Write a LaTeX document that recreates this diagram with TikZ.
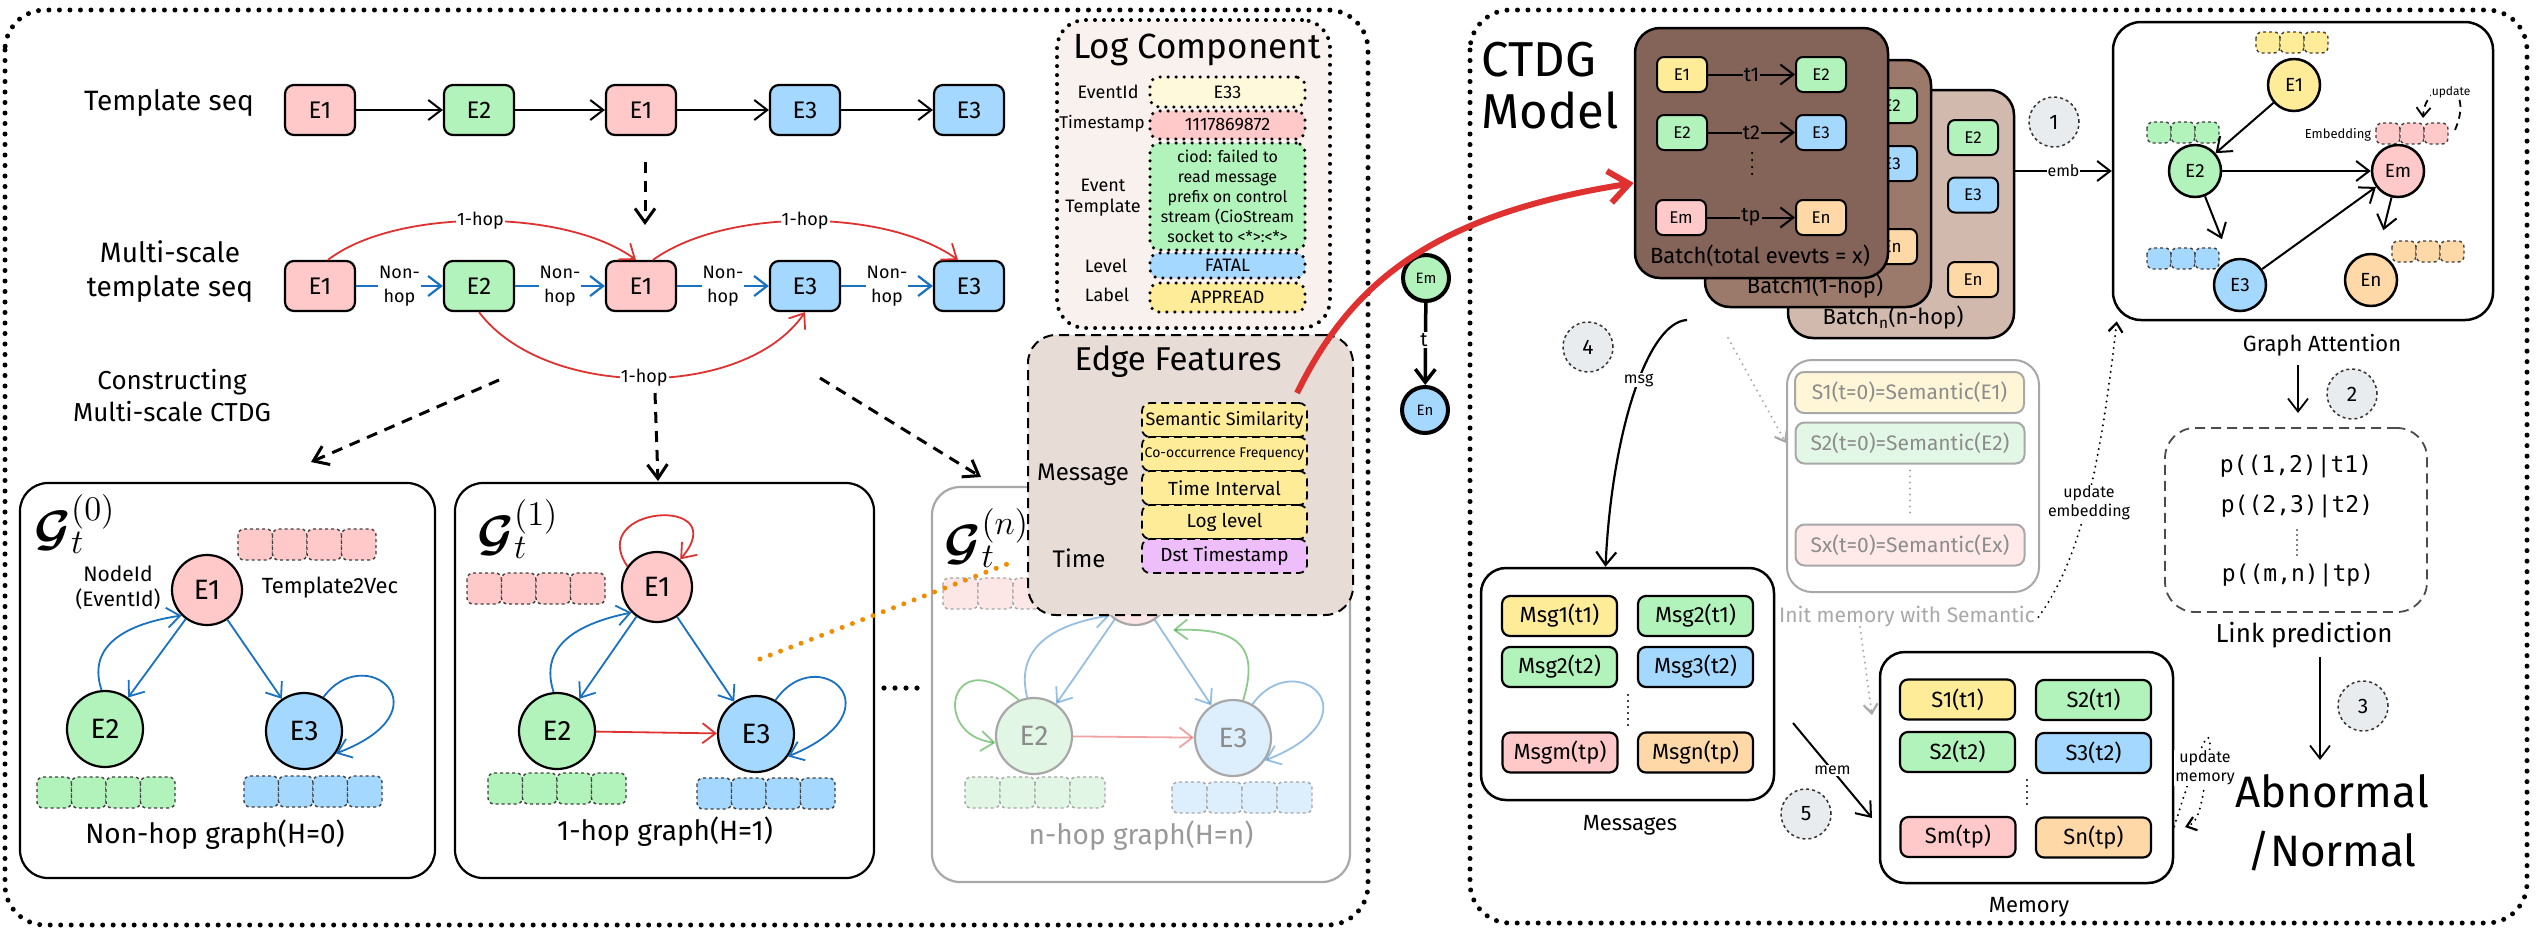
\documentclass[tikz,border=0pt]{standalone}
\usepackage{fontspec}
\setmainfont{Fira Sans}
\newfontfamily\monof{DejaVu Sans Mono}
\usepackage{bm}
\usepackage{graphicx}
\usetikzlibrary{arrows.meta,calc}
\definecolor{cpink}{HTML}{FFC9C9}
\definecolor{cgreen}{HTML}{B2F2BB}
\definecolor{cblue}{HTML}{A5D8FF}
\definecolor{cyellow}{HTML}{FFEC99}
\definecolor{corange}{HTML}{FFD8A8}
\definecolor{cpurple}{HTML}{EEBEFA}
\definecolor{clyellow}{HTML}{FFF9DB}
\definecolor{eblue}{HTML}{1971C2}
\definecolor{ered}{HTML}{E03131}
\definecolor{eorange}{HTML}{F08C00}
\definecolor{bfront}{HTML}{846358}
\definecolor{bmid}{HTML}{9C7A6B}
\definecolor{bback}{HTML}{D2B9AE}
\definecolor{logfill}{HTML}{F8F1EE}
\definecolor{effill}{HTML}{E8DCD7}
\definecolor{numfill}{HTML}{E9ECEF}
\definecolor{fgrey}{HTML}{A8A8A8}
\definecolor{syel}{HTML}{FFF6D8}
\definecolor{sgrn}{HTML}{E2F7E5}
\definecolor{spnk}{HTML}{FFE9E9}
\definecolor{fpink}{HTML}{FDE6E6}
\definecolor{fgreen}{HTML}{E1F6E4}
\definecolor{fblue}{HTML}{DDEEFC}
\newcommand{\fsz}[2]{\fontsize{#1pt}{#2pt}\selectfont}
\newcommand{\embbar}[6]{\foreach \ii in {1,...,#3}{\draw[#6] ({#1+(\ii-1)*#4},#2) rectangle ++(#4,#5);}}
\tikzset{
 arr/.style={-{Straight Barb[length=13pt,width=20pt]}},
 sarr/.style={-{Straight Barb[length=9pt,width=14pt]}},
 larr/.style={-{Straight Barb[length=20pt,width=32pt]}},
 outerdot/.style={line width=5pt, dash pattern=on 0pt off 10.5pt, line cap=round, rounded corners=40pt},
 ebox/.style={draw=black, line width=2.2pt, rounded corners=9pt, minimum width=70pt, minimum height=50pt, inner sep=0pt, font=\fsz{24}{28}},
 blk/.style={draw=black, line width=2pt},
 nh/.style={fill=white, align=center, font=\fsz{18}{24}, inner sep=1pt},
 hop/.style={fill=white, font=\fsz{18}{20}, inner sep=1pt},
 lbl/.style={font=\fsz{28}{34}, align=center},
 darr/.style={line width=3pt, dash pattern=on 11pt off 8pt, -{Straight Barb[length=14pt,width=20pt]}},
 gbox/.style={draw=black, line width=2.2pt, rounded corners=28pt},
 gn/.style={circle, draw=black, line width=2.2pt, minimum size=76pt, inner sep=0pt, font=\fsz{28}{32}},
 fgn/.style={circle, draw=fgrey, line width=2.2pt, minimum size=76pt, inner sep=0pt, font=\fsz{28}{32}, text=black!45},
 emb/.style={draw=black!75, dashed, line width=1.4pt, rounded corners=6pt},
 femb/.style={draw=black!35, dashed, line width=1.4pt, rounded corners=6pt},
 be/.style={draw=eblue, line width=1.8pt, arr},
 re/.style={draw=ered, line width=1.8pt, arr},
 ge/.style={draw=green!55!black, line width=1.8pt, arr},
 fade/.style={opacity=0.45},
 lval/.style={draw=black, line width=3.5pt, dash pattern=on 0pt off 8pt, line cap=round, rounded corners=9pt, minimum width=155pt, inner sep=0pt, font=\fsz{18}{20}, align=center},
 efval/.style={draw=black, line width=1.8pt, dash pattern=on 8pt off 5pt, rounded corners=8pt, minimum width=165pt, minimum height=34pt, inner sep=0pt, font=\fsz{19}{22}},
 smallc/.style={circle, draw=black, line width=4pt, minimum size=46pt, inner sep=0pt, font=\fsz{15}{18}},
 bstyle/.style={draw=black, line width=2.5pt, rounded corners=25pt},
 bbx/.style={draw=black, line width=2pt, rounded corners=7pt, minimum width=50pt, minimum height=35pt, inner sep=0pt, font=\fsz{17}{20}},
 bt/.style={fill=bfront, font=\fsz{20}{22}, inner sep=1pt},
 numc/.style={circle, draw=black!80, dashed, line width=1.5pt, fill=numfill, minimum size=50pt, inner sep=0pt, font=\fsz{21}{24}},
 gac/.style={circle, draw=black, line width=2.5pt, minimum size=52pt, inner sep=0pt, font=\fsz{19}{22}},
 cont/.style={draw=black, line width=2.5pt, rounded corners=25pt},
 mbox/.style={draw=black, line width=2.2pt, rounded corners=8pt, minimum width=115pt, minimum height=40pt, inner sep=0pt, font=\fsz{22}{24}},
 sbox/.style={draw=fgrey, line width=2pt, rounded corners=9pt, minimum width=229pt, minimum height=41pt, inner sep=0pt, text=black!45, font=\fsz{21}{24}},
 gdot/.style={draw=fgrey, line width=2.2pt, dash pattern=on 0pt off 6pt, line cap=round},
 bdot/.style={draw=black, line width=2.2pt, dash pattern=on 0pt off 6pt, line cap=round},
 small/.style={font=\fsz{16}{19}, fill=white, inner sep=1pt, align=center},
}
\begin{document}
\begin{tikzpicture}[x=1pt,y=-1pt]
\useasboundingbox (0,0) rectangle (2537,935);
\fill[white] (0,0) rectangle (2537,935);
% outer boxes
\draw[outerdot] (5,10) rectangle (1368,925);
\draw[outerdot] (1470,10) rectangle (2527,923);

% ---------- template sequence ----------
\node[lbl] (tseq) at (169,103) {Template seq};
\node[ebox, fill=cpink] (t1) at (320,110) {E1};
\node[ebox, fill=cgreen] (t2) at (479,110) {E2};
\node[ebox, fill=cpink] (t3) at (641,110) {E1};
\node[ebox, fill=cblue] (t4) at (805,110) {E3};
\node[ebox, fill=cblue] (t5) at (969,110) {E3};
\draw[blk, arr] (t1) -- (t2);
\draw[blk, arr] (t2) -- (t3);
\draw[blk, arr] (t3) -- (t4);
\draw[blk, arr] (t4) -- (t5);
\coordinate (a0) at (645,162);
\coordinate (a1) at (645,225);
\draw[darr] (a0) -- (a1);

% ---------- multi-scale sequence ----------
\node[lbl] (mseq) at (170,272) {Multi-scale\\template seq};
\node[ebox, fill=cpink] (m1) at (320,286) {E1};
\node[ebox, fill=cgreen] (m2) at (479,286) {E2};
\node[ebox, fill=cpink] (m3) at (641,286) {E1};
\node[ebox, fill=cblue] (m4) at (805,286) {E3};
\node[ebox, fill=cblue] (m5) at (969,286) {E3};
\draw[draw=eblue, line width=2.2pt, arr] (m1) -- node[nh]{Non-\\hop} (m2);
\draw[draw=eblue, line width=2.2pt, arr] (m2) -- node[nh]{Non-\\hop} (m3);
\draw[draw=eblue, line width=2.2pt, arr] (m3) -- node[nh]{Non-\\hop} (m4);
\draw[draw=eblue, line width=2.2pt, arr] (m4) -- node[nh]{Non-\\hop} (m5);
\draw[re] ([xshift=8pt]m1.north) .. controls (395,208) and (565,208) .. ([xshift=-5pt]m3.north) node[pos=0.5, hop]{1-hop};
\draw[re] ([xshift=12pt]m3.north) .. controls (725,208) and (885,208) .. ([xshift=-11pt]m5.north) node[pos=0.5, hop]{1-hop};
\draw[re] (m2.south) .. controls (545,400) and (745,400) .. (m4.south) node[pos=0.5, hop]{1-hop};

\node[font=\fsz{26}{32}, align=center] (cons) at (172,396) {Constructing\\Multi-scale CTDG};
\coordinate (c1s) at (499,380); \coordinate (c1e) at (311,462);
\coordinate (c2s) at (655,393); \coordinate (c2e) at (658,481);
\coordinate (c3s) at (820,378); \coordinate (c3e) at (981,477);
\draw[darr] (c1s) -- (c1e);
\draw[darr] (c2s) -- (c2e);
\draw[darr] (c3s) -- (c3e);

% ---------- G0 ----------
\node[gbox, minimum width=415pt, minimum height=395pt] (G0) at (227.5,680.5) {};
\node (G0l) at (75,524) {\fsz{22}{26}\scalebox{2.4}{$\bm{\mathcal{G}}_t^{(0)}$}};
\embbar{238}{529}{4}{34.5}{31}{emb,fill=cpink}
\node[gn, fill=cpink, minimum size=70pt] (G0e1) at (207,590) {E1};
\node[gn, fill=cgreen] (G0e2) at (105,729) {E2};
\node[gn, fill=cblue] (G0e3) at (304,731) {E3};
\node[font=\fsz{21}{25}, align=center] (G0id) at (118,588) {NodeId\\(EventId)};
\node[font=\fsz{22}{26}] (G0tv) at (330,588) {Template2Vec};
\embbar{37}{777}{4}{34.5}{31}{emb,fill=cgreen}
\embbar{244}{776}{4}{34.5}{31}{emb,fill=cblue}
\node[font=\fsz{28}{32}] (G0t) at (215,835) {Non-hop graph(H=0)};
\draw[be] (G0e1) -- (G0e2);
\draw[be] (G0e2.95) .. controls (88,650) and (118,625) .. (G0e1.225);
\draw[be] (G0e1) -- (G0e3);
\draw[be] (G0e3.60) .. controls (365,640) and (450,710) .. (G0e3.-35);

% ---------- G1 ----------
\node[gbox, minimum width=419pt, minimum height=395pt] (G1) at (664.5,680.5) {};
\node (G1l) at (518,529) {\fsz{22}{26}\scalebox{2.4}{$\bm{\mathcal{G}}_t^{(1)}$}};
\embbar{467}{573}{4}{34.5}{31}{emb,fill=cpink}
\node[gn, fill=cpink, minimum size=70pt] (G1e1) at (657,587) {E1};
\node[gn, fill=cgreen] (G1e2) at (557,731) {E2};
\node[gn, fill=cblue] (G1e3) at (756,734) {E3};
\embbar{488}{773}{4}{34.5}{31}{emb,fill=cgreen}
\embbar{697}{778}{4}{34.5}{31}{emb,fill=cblue}
\node[font=\fsz{28}{32}] (G1t) at (665,832) {1-hop graph(H=1)};
\draw[be] (G1e1) -- (G1e2);
\draw[be] (G1e2.95) .. controls (540,650) and (570,625) .. (G1e1.225);
\draw[be] (G1e1) -- (G1e3);
\draw[be] (G1e3.60) .. controls (817,640) and (902,710) .. (G1e3.-35);
\draw[re] (G1e1.145) .. controls (585,505) and (735,495) .. (G1e1.50);
\draw[re] (G1e2) -- (G1e3);

% dots between
\foreach \xx in {884,895,906,917} \fill (\xx,688) circle (2.6);

% ---------- Gn (faded) ----------
\node[gbox, draw=fgrey, minimum width=418pt, minimum height=395pt] (Gn) at (1141,684.5) {};
\node (Gnl) at (987,538) {\fsz{22}{26}\scalebox{2.4}{$\bm{\mathcal{G}}_t^{(n)}$}};
\embbar{943}{578}{4}{35}{31}{femb,fill=fpink}
\node[fgn, fill=fpink, minimum size=70pt] (Gne1) at (1135,590) {E1};
\node[fgn, fill=fgreen] (Gne2) at (1034,736) {E2};
\node[fgn, fill=fblue] (Gne3) at (1233,738) {E3};
\embbar{965}{777}{4}{35}{31}{femb,fill=fgreen}
\embbar{1172}{782}{4}{35}{31}{femb,fill=fblue}
\node[font=\fsz{28}{32}, text=black!40] (Gnt) at (1141,836) {n-hop graph(H=n)};
\coordinate (gnT) at (1173,630);
\begin{scope}[fade]
\draw[be] (Gne1) -- (Gne2);
\draw[be] (Gne2.100) .. controls (1015,650) and (1050,625) .. (Gne1.225);
\draw[be] (Gne1) -- (Gne3);
\draw[be] (Gne3.60) .. controls (1295,645) and (1380,715) .. (Gne3.-35);
\draw[ge] (Gne3.75) .. controls (1262,640) and (1230,628) .. (gnT);
\draw[ge] (Gne2.113) .. controls (950,640) and (930,735) .. (Gne2.190);
\draw[re] (Gne2) -- (Gne3);
\end{scope}

% orange dotted
\coordinate (od1) at (760,659);
\coordinate (od2) at (1010,563);
\draw[draw=eorange, line width=5pt, dash pattern=on 0pt off 11pt, line cap=round] (od1) -- (od2);

% ---------- Edge features ----------
\node[draw=black, fill=effill, line width=2pt, dash pattern=on 10pt off 6pt, rounded corners=28pt, minimum width=325pt, minimum height=280pt] (ef) at (1190.5,475) {};
\node[font=\fsz{33}{38}] (eft) at (1178,362) {Edge Features};
\node[efval, fill=cyellow, font=\fsz{18}{22}] (ef1) at (1224.5,420) {Semantic Similarity};
\node[efval, fill=cyellow, font=\fsz{14}{16}] (ef2) at (1224.5,454) {Co-occurrence Frequency};
\node[efval, fill=cyellow] (ef3) at (1224.5,488) {Time Interval};
\node[efval, fill=cyellow] (ef4) at (1224.5,522) {Log level};
\node[efval, fill=cpurple] (ef5) at (1224.5,556) {Dst Timestamp};
\node[font=\fsz{24}{28}] (efm) at (1083,475) {Message};
\node[font=\fsz{24}{28}] (eftm) at (1079,558) {Time};

% ---------- Log component ----------
\node[draw=black, fill=logfill, line width=4pt, dash pattern=on 0pt off 9pt, line cap=round, rounded corners=28pt, minimum width=273pt, minimum height=308pt] (log) at (1193.5,174) {};
\node[font=\fsz{35}{40}] (logt) at (1197,50) {Log Component};
\node[lval, fill=clyellow, minimum height=30pt] (lv1) at (1227.5,92) {E33};
\node[lval, fill=cpink, minimum height=28pt] (lv2) at (1227.5,125) {1117869872};
\node[lval, fill=cgreen, minimum height=107pt, font=\fsz{16}{20}] (lv3) at (1227.5,196.5) {ciod: failed to\\read message\\prefix on control\\stream (CioStream\\socket to <*>:<*>};
\node[lval, fill=cblue, minimum height=25pt] (lv4) at (1227.5,265.5) {FATAL};
\node[lval, fill=cyellow, minimum height=29pt] (lv5) at (1227.5,297.5) {APPREAD};
\node[font=\fsz{18}{21}] (ll1) at (1108,92) {EventId};
\node[font=\fsz{17}{20}] (ll2) at (1102,124) {Timestamp};
\node[font=\fsz{18}{21}, align=center] (ll3) at (1103,198) {Event\\Template};
\node[font=\fsz{18}{21}] (ll4) at (1106,266) {Level};
\node[font=\fsz{18}{21}] (ll5) at (1107,295) {Label};

% ---------- Em -> En ----------
\node[smallc, fill=cgreen] (sEm) at (1426,278) {Em};
\node[smallc, fill=cblue] (sEn) at (1425,410) {En};
\draw[line width=3.5pt, arr] (sEm) -- (sEn);
\node[fill=white, font=\fsz{20}{22}, inner sep=1pt] (tlab) at (1424,340) {t};

% ---------- CTDG Model ----------
\node[font=\fsz{49}{52}, align=left, anchor=west] (ctdg) at (1478,86) {CTDG\\Model};

% ---------- batches ----------
\node[bstyle, fill=bback, minimum width=226pt, minimum height=248pt] (bn) at (1901,214) {};
\node[bbx, fill=cgreen] (bnE2) at (1973,137.5) {E2};
\node[bbx, fill=cblue] (bnE3) at (1973,195) {E3};
\node[bbx, fill=corange] (bnEn) at (1973,279.5) {En};
\node[font=\fsz{22}{26}] (bnl) at (1893,318) {Batch\textsubscript{n}(n-hop)};
\node[bstyle, fill=bmid, minimum width=226pt, minimum height=247pt] (b1) at (1818,183.5) {};
\node[bbx, fill=cgreen] (b1E2) at (1892,105.5) {E2};
\node[bbx, fill=cblue] (b1E3) at (1892,163.5) {E3};
\node[bbx, fill=corange] (b1En) at (1892,246.5) {En};
\node[font=\fsz{22}{26}] (b1l) at (1815,287) {Batch1(1-hop)};
\node[bstyle, fill=bfront, minimum width=253pt, minimum height=250pt] (fb) at (1761.5,153) {};
\node[bbx, fill=cyellow] (fE1) at (1682,74.5) {E1};
\node[bbx, fill=cgreen] (fE2) at (1821,74.5) {E2};
\node[bbx, fill=cgreen] (fE2b) at (1682,132.5) {E2};
\node[bbx, fill=cblue] (fE3) at (1821,132.5) {E3};
\node[bbx, fill=cpink] (fEm) at (1681,217.5) {Em};
\node[bbx, fill=corange] (fEn) at (1821,217.5) {En};
\draw[blk, arr] (fE1) -- node[bt]{t1} (fE2);
\draw[blk, arr] (fE2b) -- node[bt]{t2} (fE3);
\draw[blk, arr] (fEm) -- node[bt]{tp} (fEn);
\draw[line width=2.5pt, dash pattern=on 0pt off 7pt, line cap=round] (1752,153) -- (1752,178);
\node[font=\fsz{22}{26}] (fbl) at (1760,256) {Batch(total evevts = x)};

% red big arrow
\coordinate (rs) at (1297,393);
\draw[draw=ered, line width=6pt, larr] (rs) .. controls (1350,285) and (1430,215) .. ([yshift=-30pt]fb.west);

% ---------- Graph attention ----------
\node[numc] (n1) at (2054,122) {1};
\node[draw=black, line width=2.5pt, rounded corners=28pt, minimum width=380pt, minimum height=298pt] (ga) at (2303,171) {};
\draw[blk, arr] (bn.east |- ga.west) -- node[fill=white, font=\fsz{16}{18}, inner sep=1pt]{emb} (ga.west);
\embbar{2256}{32}{3}{24}{21}{emb,fill=cyellow}
\embbar{2147}{122}{3}{24}{21}{emb,fill=cgreen}
\embbar{2376}{123}{3}{24}{21}{emb,fill=cpink}
\embbar{2147}{248}{3}{24}{21}{emb,fill=cblue}
\embbar{2392}{241}{3}{24}{21}{emb,fill=corange}
\node[gac, fill=cyellow] (gE1) at (2294,85) {E1};
\node[gac, fill=cgreen] (gE2) at (2195,171) {E2};
\node[gac, fill=cpink] (gEm) at (2398,171) {Em};
\node[gac, fill=cblue] (gE3) at (2240,285) {E3};
\node[gac, fill=corange] (gEn) at (2371,280) {En};
\draw[blk, arr] (gE1) -- (gE2);
\draw[blk, arr] (gE2) -- (gEm);
\draw[blk, arr, shorten >=22pt] (gE2) -- (gE3);
\draw[blk, arr] (gE3) -- (gEm);
\draw[blk, arr, shorten >=24pt] (gEm) -- (gEn);
\node[font=\fsz{13}{15}] (embl) at (2338,135) {Embedding};
\draw[draw=black, line width=1.8pt, dash pattern=on 7pt off 5pt, sarr] (2455,130) .. controls (2477,78) and (2425,78) .. (2423,118);
\node[font=\fsz{12}{14}, fill=white, inner sep=1pt] (updl) at (2451,92) {update};
\node[font=\fsz{22}{26}] (gal) at (2322,345) {Graph Attention};
\coordinate (ga1) at (2298,365); \coordinate (ga2) at (2298,413);
\draw[draw=black, line width=1.8pt, arr] (ga1) -- (ga2);
\node[numc] (n2) at (2352,394) {2};

% ---------- link prediction ----------
\node[draw=black!70, line width=1.8pt, dash pattern=on 10pt off 6pt, rounded corners=30pt, minimum width=262pt, minimum height=184pt] (lp) at (2296,520) {};
\node[font=\monof\fsz{23}{26}] (p1) at (2296,466) {p((1,2)|t1)};
\node[font=\monof\fsz{23}{26}] (p2) at (2297,506) {p((2,3)|t2)};
\node[font=\monof\fsz{23}{26}] (p3) at (2298,575) {p((m,n)|tp)};
\draw[line width=1.6pt, dash pattern=on 0pt off 5pt, line cap=round] (2297,530) -- (2297,557);
\node[font=\fsz{26}{30}] (lpl) at (2304,635) {Link prediction};
\coordinate (lp1) at (2320,657); \coordinate (lp2) at (2320,760);
\draw[draw=black, line width=1.8pt, arr] (lp1) -- (lp2);
\node[numc] (n3) at (2363,706) {3};
\node[font=\fsz{44}{59}, align=center] (abn) at (2332,823) {Abnormal\\/Normal};

% ---------- semantic init ----------
\node[draw=fgrey, line width=2pt, rounded corners=25pt, minimum width=252pt, minimum height=232pt] (sem) at (1913,476) {};
\node[sbox, fill=syel] (s1) at (1909.5,392.5) {S1(t=0)=Semantic(E1)};
\node[sbox, fill=sgrn] (s2) at (1910,443) {S2(t=0)=Semantic(E2)};
\node[sbox, fill=spnk] (sx) at (1910,545) {Sx(t=0)=Semantic(Ex)};
\draw[gdot] ([yshift=-6pt]s2.south) -- ([yshift=6pt]sx.north);
\node[font=\fsz{21}{24}, text=fgrey] (initl) at (1907,617) {Init memory with Semantic};
\coordinate (gd1) at (1728,338);
\draw[gdot, sarr] (gd1) -- (sem.west |- s2.west);
\coordinate (gd2e) at (1872,715);
\draw[gdot, sarr] ([xshift=-47pt,yshift=4pt]initl.south) -- (gd2e);
\draw[bdot, sarr] (initl.east) .. controls (2080,560) and (2100,470) .. ([xshift=5pt]ga.south west);
\node[font=\fsz{16}{19}, fill=white, inner sep=1pt, align=center] (uel) at (2089,503) {update\\embedding};

% ---------- messages ----------
\node[numc] (n4) at (1588,347) {4};
\node[cont, minimum width=293pt, minimum height=232pt] (msgs) at (1627.5,684) {};
\coordinate (msgS) at (1687,320);
\draw[draw=black, line width=2.2pt, arr] (msgS) .. controls (1648,322) and (1612,430) .. ([xshift=-22pt]msgs.north) node[pos=0.45, small]{msg};
\node[mbox, fill=cyellow] (mg1) at (1559.5,616) {Msg1(t1)};
\node[mbox, fill=cgreen] (mg2) at (1695.5,616) {Msg2(t1)};
\node[mbox, fill=cgreen] (mg3) at (1559.5,667) {Msg2(t2)};
\node[mbox, fill=cblue] (mg4) at (1695.5,667) {Msg3(t2)};
\node[mbox, fill=cpink] (mg5) at (1560,752.5) {Msgm(tp)};
\node[mbox, fill=corange] (mg6) at (1695.5,752.5) {Msgn(tp)};
\draw[line width=2.2pt, dash pattern=on 0pt off 6pt, line cap=round] (1628,695) -- (1628,726);
\node[font=\fsz{22}{26}] (msgl) at (1630,825) {Messages};

% ---------- memory ----------
\node[cont, minimum width=293pt, minimum height=231pt] (mem) at (2026.5,767.5) {};
\node[mbox, fill=cyellow] (sm1) at (1957.5,699.5) {S1(t1)};
\node[mbox, fill=cgreen] (sm2) at (2093.5,700) {S2(t1)};
\node[mbox, fill=cgreen] (sm3) at (1957.5,752) {S2(t2)};
\node[mbox, fill=cblue] (sm4) at (2093.5,753) {S3(t2)};
\node[mbox, fill=cpink] (sm5) at (1958,837) {Sm(tp)};
\node[mbox, fill=corange] (sm6) at (2093.5,837.5) {Sn(tp)};
\draw[line width=2.2pt, dash pattern=on 0pt off 6pt, line cap=round] (2027,780) -- (2027,810);
\node[font=\fsz{22}{26}] (meml) at (2029,907) {Memory};
\coordinate (memS) at (1793,723);
\coordinate (memE) at (1872,818);
\draw[draw=black, line width=2pt, arr] (memS) -- node[small]{mem} (memE);
\node[numc] (n5) at (1806,814) {5};
\draw[bdot, sarr] ([yshift=-59pt]mem.east) .. controls (2215,695) and (2212,740) .. (2207,770) .. controls (2202,800) and (2200,822) .. (2185,827);
\node[font=\fsz{16}{19}, fill=white, inner sep=1pt, align=center] (uml) at (2205,768) {update\\memory};
\end{tikzpicture}
\end{document}
